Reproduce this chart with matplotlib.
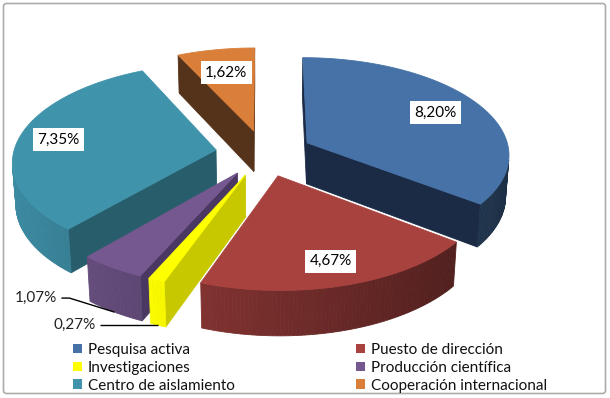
import numpy as np
import matplotlib
matplotlib.use("Agg")
import matplotlib.pyplot as plt
from matplotlib.patches import Polygon, Patch, FancyBboxPatch
from matplotlib.colors import to_rgb

# ---------------- data ----------------
categories = ["Pesquisa activa", "Puesto de dirección", "Investigaciones",
              "Producción científica", "Centro de aislamiento", "Cooperación internacional"]
values = [8.20, 4.67, 0.27, 1.07, 7.35, 1.62]
value_labels = ["8,20%", "4,67%", "0,27%", "1,07%", "7,35%", "1,62%"]

# ---------------- styles ----------------
top_colors = ["#4672A7", "#A8423F", "#FFFF00", "#74588F", "#3F93AB", "#DA7F3A"]
cut_colors = ["#1B2B45", "#5A2220", "#C8C800", "#4A3862", "#285E6C", "#55321A"]
rim_k0 = [0.34, 0.32, 0.12, 0.30, 0.30, 0.30]
label_r = [0.75, 0.80, None, None, 0.80, 0.70]
ext_offsets = {2: (-62, 0), 3: (-57, -14)}

FONT = ["Lato", "DejaVu Sans"]
plt.rcParams["font.family"] = FONT
FS = 11

W, H = 610, 398
CX, CY = 264, 153
F, D, PHI = 1620.0, 8.0, np.radians(28.5)
EXPLODE = 0.24
DEPTH = 0.235

cam = np.array([0.0, -D * np.cos(PHI), D * np.sin(PHI)])


def project(X, Y, Z):
    up = Y * np.sin(PHI) + Z * np.cos(PHI)
    dep = D + Y * np.cos(PHI) - Z * np.sin(PHI)
    return CX + F * X / dep, CY - F * up / dep


def depth_of(X, Y, Z):
    return D + Y * np.cos(PHI) - Z * np.sin(PHI)


fig = plt.figure(figsize=(W / 100, H / 100), dpi=100)
ax = fig.add_axes([0, 0, 1, 1])
ax.set_xlim(0, W)
ax.set_ylim(H, 0)
ax.axis("off")

# frame
ax.add_patch(FancyBboxPatch((3.5, 3.5), W - 8, H - 8,
                            boxstyle="round,pad=0,rounding_size=3",
                            fc="white", ec="#ABABAB", lw=1.2, zorder=0))

vals = np.array(values, dtype=float)
frac = vals / vals.sum()
ends = np.cumsum(frac) * 2 * np.pi
starts = ends - frac * 2 * np.pi

slices = []
for i in range(len(vals)):
    t0, t1 = starts[i], ends[i]
    tm = 0.5 * (t0 + t1)
    ex, ey = EXPLODE * np.sin(tm), EXPLODE * np.cos(tm)
    cdep = depth_of(ex + 0.5 * np.sin(tm), ey + 0.5 * np.cos(tm), 0)
    slices.append((cdep, i, t0, t1, tm, ex, ey))

slices.sort(key=lambda s: -s[0])

z = 1
for cdep, i, t0, t1, tm, ex, ey in slices:
    def P(r, t, zz):
        return np.array([ex + r * np.sin(t), ey + r * np.cos(t), zz])

    def poly(pts, color):
        global z
        xs, ys = zip(*[project(*p) for p in pts])
        ax.add_patch(Polygon(np.column_stack([xs, ys]), closed=True,
                             fc=color, ec=color, lw=0.6, zorder=z))
        z += 1

    def visible(n, pts):
        c = np.mean(pts, axis=0)
        return np.dot(n, cam - c) > 0

    top_rgb = np.array(to_rgb(top_colors[i]))
    # cut faces
    for t, n in ((t0, np.array([-np.cos(t0), np.sin(t0), 0])),
                 (t1, np.array([np.cos(t1), -np.sin(t1), 0]))):
        pts = [P(0, t, 0), P(1, t, 0), P(1, t, -DEPTH), P(0, t, -DEPTH)]
        if visible(n, pts):
            poly(pts, cut_colors[i])
    # rim
    nseg = max(2, int(np.degrees(t1 - t0) / 1.0))
    ts = np.linspace(t0, t1, nseg + 1)
    for a, b in zip(ts[:-1], ts[1:]):
        m = 0.5 * (a + b)
        n = np.array([np.sin(m), np.cos(m), 0])
        pts = [P(1, a, 0), P(1, b, 0), P(1, b, -DEPTH), P(1, a, -DEPTH)]
        if visible(n, pts):
            k = np.clip(rim_k0[i] + 0.25 * np.sin(m), 0, 0.85)
            poly(pts, tuple(top_rgb * (1 - k)))
    # top
    arc = [P(1, t, 0) for t in np.linspace(t0, t1, max(3, int(np.degrees(t1 - t0)) + 2))]
    poly([P(0, 0, 0)] + arc, top_colors[i])

# labels
for i in range(len(vals)):
    t0, t1 = starts[i], ends[i]
    tm = 0.5 * (t0 + t1)
    ex, ey = EXPLODE * np.sin(tm), EXPLODE * np.cos(tm)
    if label_r[i] is not None:
        r = label_r[i]
        x, y = project(ex + r * np.sin(tm), ey + r * np.cos(tm), 0)
        ax.text(x, y, value_labels[i], ha="center", va="center", fontsize=FS,
                color="black", zorder=200,
                bbox=dict(boxstyle="square,pad=0.28", fc="white", ec="none"))
    else:
        axp, ayp = project(ex + np.sin(tm), ey + np.cos(tm), -DEPTH)
        dx, dy = ext_offsets[i]
        tx, ty = axp + dx, ayp + dy
        ax.text(tx, ty, value_labels[i], ha="right", va="center", fontsize=FS,
                color="#222222", zorder=200)
        ax.plot([tx + 4, tx + 12, axp], [ty, ty, ayp], color="black", lw=1.0,
                zorder=199, solid_capstyle="butt")

# legend (row-wise like the original: two columns)
handles = [Patch(fc=c, ec="none") for c in top_colors]
col1 = [0, 2, 4]
col2 = [1, 3, 5]
common = dict(frameon=False, fontsize=FS, handlelength=0.6, handleheight=0.6,
              handletextpad=0.35, labelspacing=0.25, borderpad=0, borderaxespad=0,
              loc="upper left")
leg1 = ax.legend([handles[k] for k in col1], [categories[k] for k in col1],
                 bbox_to_anchor=(73, 343), bbox_transform=ax.transData, **common)
ax.add_artist(leg1)
leg2 = ax.legend([handles[k] for k in col2], [categories[k] for k in col2],
                 bbox_to_anchor=(356, 343), bbox_transform=ax.transData, **common)
for lg in (leg1, leg2):
    for t in lg.get_texts():
        t.set_color("#111111")

fig.savefig("out.png", dpi=100)
